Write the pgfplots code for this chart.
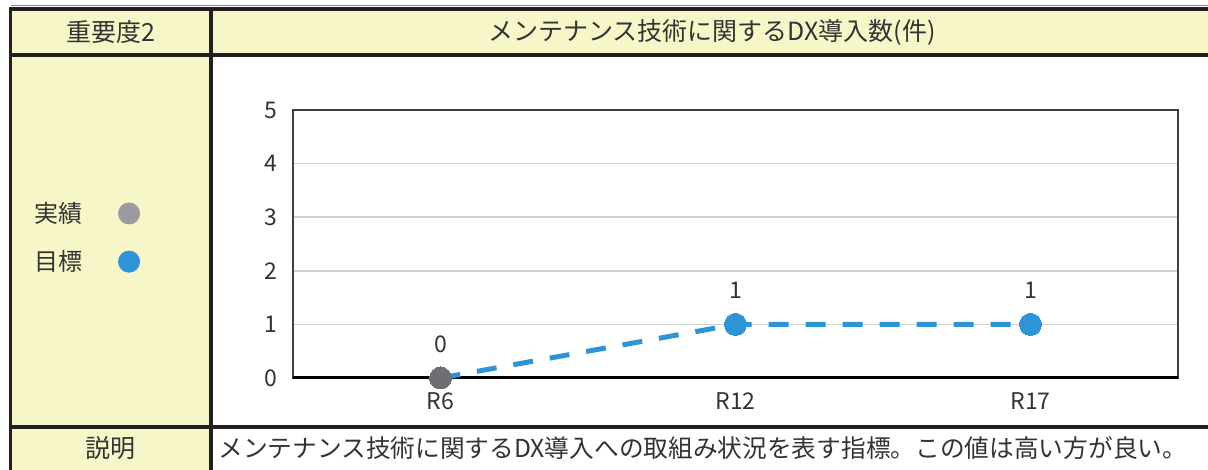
\documentclass[border=0pt]{standalone}
\usepackage{fontspec}
\setmainfont{Noto Sans CJK JP}
\usepackage{pgfplots}
\pgfplotsset{compat=1.18}
\definecolor{yfill}{HTML}{F7F6C9}
\definecolor{frame}{HTML}{231F20}
\definecolor{tblue}{HTML}{2D95D5}
\definecolor{dgray}{HTML}{6E6F72}
\definecolor{lgray}{HTML}{9C9CA0}
\definecolor{txt}{HTML}{333333}
\begin{document}
\begin{tikzpicture}
\useasboundingbox (0,0) rectangle (604pt,235pt);
% cell fills
\fill[yfill] (5.25pt,207.5pt) rectangle (604pt,230.5pt);
\fill[yfill] (5.25pt,0pt) rectangle (105.5pt,207.5pt);
% frame lines
\draw[black!45, line width=0.5pt] (5.25pt,232.2pt) -- (604pt,232.2pt);
\draw[frame, line width=1.75pt] (5.25pt,0pt) -- (5.25pt,230.5pt) -- (604pt,230.5pt);
\draw[frame, line width=1.75pt] (5.25pt,207.5pt) -- (604pt,207.5pt);
\draw[frame, line width=1.75pt] (5.25pt,21.5pt) -- (604pt,21.5pt);
\draw[frame, line width=1.75pt] (105.5pt,0pt) -- (105.5pt,230.5pt);
% texts
\node[text=txt, font=\fontsize{12.5}{14}\selectfont] at (55.25pt,219pt) {重要度2};
\node[text=txt, font=\fontsize{12.5}{14}\selectfont] at (356pt,219pt) {メンテナンス技術に関するDX導入数(件)};
\node[text=txt, font=\fontsize{12.5}{14}\selectfont] at (55.25pt,11pt) {説明};
\node[text=txt, font=\fontsize{12.35}{14}\selectfont, anchor=west, inner sep=0pt] at (109pt,11pt) {メンテナンス技術に関するDX導入への取組み状況を表す指標。この値は高い方が良い。};
\begin{axis}[
  at={(146.5pt,46pt)}, anchor=south west,
  scale only axis, width=442.5pt, height=134pt,
  xmin=-0.5, xmax=2.5, ymin=0, ymax=5,
  xtick={0,1,2}, xticklabels={R6,R12,R17},
  ytick={0,1,2,3,4,5},
  ymajorgrids, grid style={draw=black!18, line width=0.8pt},
  major tick length=0pt,
  tick label style={font=\fontsize{11.5}{13}\selectfont, text=txt},
  /pgf/number format/assume math mode=true,
  yticklabel style={xshift=-4.5pt},
  xticklabel style={yshift=-4pt},
  axis line style={draw=black!75, line width=0.8pt},
  extra y ticks={0}, extra y tick labels={},
  extra y tick style={grid style={draw=black, line width=1.5pt}},
  clip=false,
  reverse legend,
  legend plot pos=right,
  legend cell align=left,
  legend style={draw=none, fill=none, at={(axis description cs:-0.297,0.524)}, anchor=west,
    font=\fontsize{12}{14}\selectfont, text=txt, row sep=8.5pt, inner sep=0pt},
]
% target
\addplot[tblue, line width=2.5pt, dash pattern=on 10pt off 8.5pt,
  mark=*, mark size=5.5pt, mark options={solid, fill=tblue, draw=tblue, line width=0pt}, mark indices={2,3},
  legend image code/.code={\path (0pt,0pt); \fill[tblue, solid, draw=none] (20pt,0pt) circle (5.5pt);}]
  coordinates {(0,0) (1,1) (2,1)};
\addlegendentry{目標}
% actual
\addplot[only marks, mark=*, mark size=5.5pt, mark options={fill=dgray, draw=dgray, line width=0pt},
  legend image code/.code={\path (0pt,0pt); \fill[lgray, solid, draw=none] (20pt,0pt) circle (5.5pt);}]
  coordinates {(0,0)};
\addlegendentry{実績}
% data labels
\addplot[draw=none, forget plot, nodes near coords, point meta=explicit symbolic,
  nodes near coords style={anchor=center, yshift=17pt, font=\fontsize{11.5}{13}\selectfont, text=txt}]
  coordinates {(0,0) [0] (1,1) [1] (2,1) [1]};
\end{axis}
\end{tikzpicture}
\end{document}
